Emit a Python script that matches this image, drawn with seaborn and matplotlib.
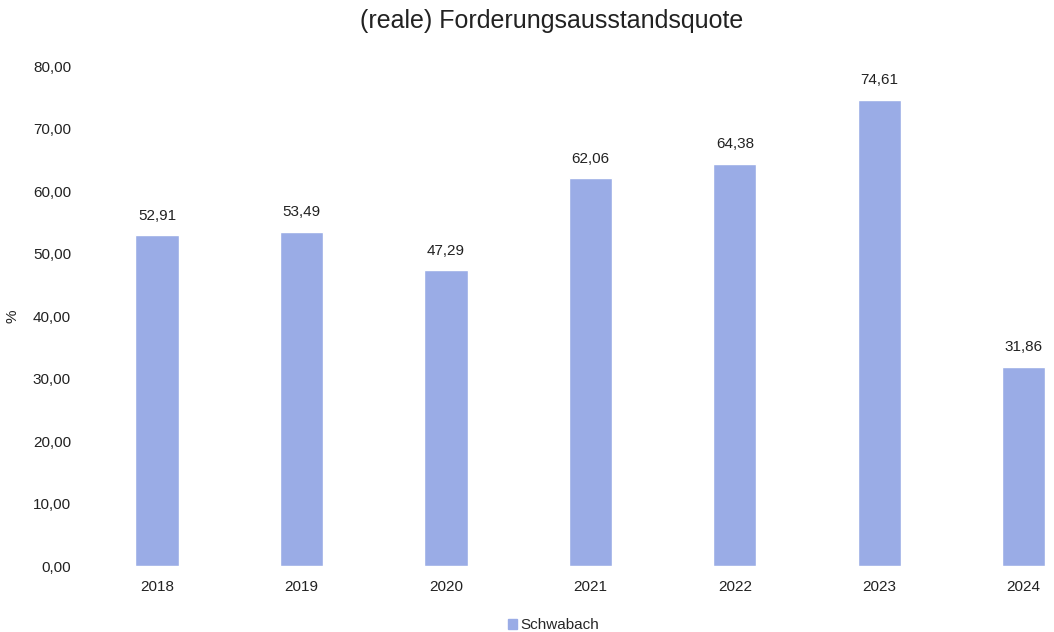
import matplotlib
matplotlib.use("Agg")
import pandas as pd
import seaborn as sns
import matplotlib.pyplot as plt
from matplotlib.ticker import FuncFormatter, MultipleLocator
from matplotlib.patches import Patch

# Daten
jahre = ["2018", "2019", "2020", "2021", "2022", "2023", "2024"]
quote = [52.91, 53.49, 47.29, 62.06, 64.38, 74.61, 31.86]
serie = "Schwabach"

df = pd.DataFrame({"Jahr": jahre, "Quote": quote})

sns.set_style("white")
plt.rcParams["font.family"] = ["Liberation Sans", "DejaVu Sans"]

farbe = "#9AACE6"

fig = plt.figure(figsize=(10.54, 6.32), dpi=100)
ax = fig.add_axes([0.0806, 0.1044, 0.9194, 0.7911])

sns.barplot(data=df, x="Jahr", y="Quote", color=farbe, width=0.3,
            saturation=1, ax=ax)

ax.set_xlim(-0.5, 6.21)
ax.set_ylim(0, 80)
ax.yaxis.set_major_locator(MultipleLocator(10))
ax.yaxis.set_major_formatter(FuncFormatter(lambda v, p: f"{v:.2f}".replace(".", ",")))

for s in ax.spines.values():
    s.set_visible(False)
ax.tick_params(axis="both", length=0, labelsize=11, colors="#222222")
ax.tick_params(axis="y", pad=10)
ax.tick_params(axis="x", pad=10)

ax.bar_label(ax.containers[0], labels=[f"{v:.2f}".replace(".", ",") for v in quote],
             padding=9, fontsize=11, color="#222222")

ax.set_xlabel("")
ax.set_ylabel("%", fontsize=11, color="#222222", labelpad=10)

fig.suptitle("(reale) Forderungsausstandsquote", x=0.523, y=0.985, fontsize=18,
             color="#222222")

fig.legend(handles=[Patch(color=farbe, label=serie)], loc="lower center",
           bbox_to_anchor=(0.525, -0.022), frameon=False, fontsize=11,
           handlelength=0.6, handleheight=0.6, handletextpad=0.2)

fig.savefig("out.png", dpi=100)
